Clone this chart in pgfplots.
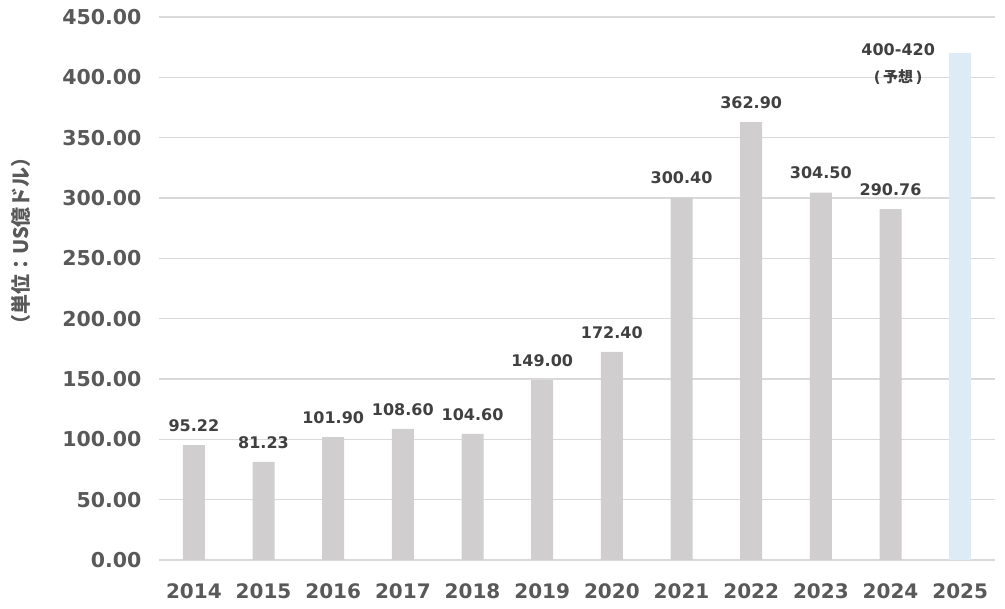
\documentclass[border=0pt]{standalone}
\usepackage{pgfplots}
\pgfplotsset{compat=1.18}
\usepackage{fontspec}
\setmainfont{DejaVu Sans}
\newfontfamily\cjk{Noto Sans CJK JP}
\definecolor{bargray}{HTML}{D0CECE}
\definecolor{barblue}{HTML}{DDEBF7}
\definecolor{gridc}{HTML}{D9D9D9}
\definecolor{tickc}{HTML}{595959}
\definecolor{labc}{HTML}{404040}
\begin{document}
\begin{tikzpicture}
\path[use as bounding box] (0,0) rectangle (1005pt,609pt);
\begin{axis}[
  at={(159pt,49pt)}, anchor=south west,
  scale only axis, width=836pt, height=543pt,
  xmin=-0.5, xmax=11.5, ymin=0, ymax=450,
  xtick={0,...,11},
  xticklabels={2014,2015,2016,2017,2018,2019,2020,2021,2022,2023,2024,2025},
  ytick={0,50,...,450},
  axis line style={draw=none},
  major tick length=0pt,
  ymajorgrids, grid style={gridc, line width=1.2pt},
  /pgf/number format/assume math mode=true,
  yticklabel style={/pgf/number format/.cd, fixed, fixed zerofill, precision=2, /tikz/.cd,
     font=\fontsize{20.5}{22}\selectfont\bfseries, text=tickc, xshift=-14pt},
  xticklabel style={font=\fontsize{20}{24}\selectfont\bfseries, text=tickc, yshift=-20pt},
  clip=false,
]
\addplot[ybar, bar width=22pt, fill=bargray, draw=none,
  nodes near coords, point meta=y,
  every node near coord/.append style={font=\fontsize{16}{18}\selectfont\bfseries, text=labc,
    /pgf/number format/.cd, fixed, fixed zerofill, precision=2, assume math mode=true, /tikz/.cd, yshift=10pt}]
  coordinates {(0,95.22) (1,81.23) (2,101.90) (3,108.60) (4,104.60) (5,149.00) (6,172.40) (7,300.40) (8,362.90) (9,304.50) (10,290.76)};
\addplot[ybar, bar width=22pt, fill=barblue, draw=none]
  coordinates {(11,420)};
\node[align=center, font=\fontsize{16}{27}\selectfont\bfseries, text=labc, anchor=center]
  at (axis cs:11,420) [xshift=-62pt, yshift=-11pt] {400-420\\\fontsize{15}{16}\selectfont(\,{\cjk\bfseries 予想}\,)};
\end{axis}
\node[rotate=90, font=\fontsize{20}{22}\selectfont, text=tickc] at (21pt,368pt) {\cjk\bfseries （単位：US億ドル）};
\end{tikzpicture}
\end{document}
